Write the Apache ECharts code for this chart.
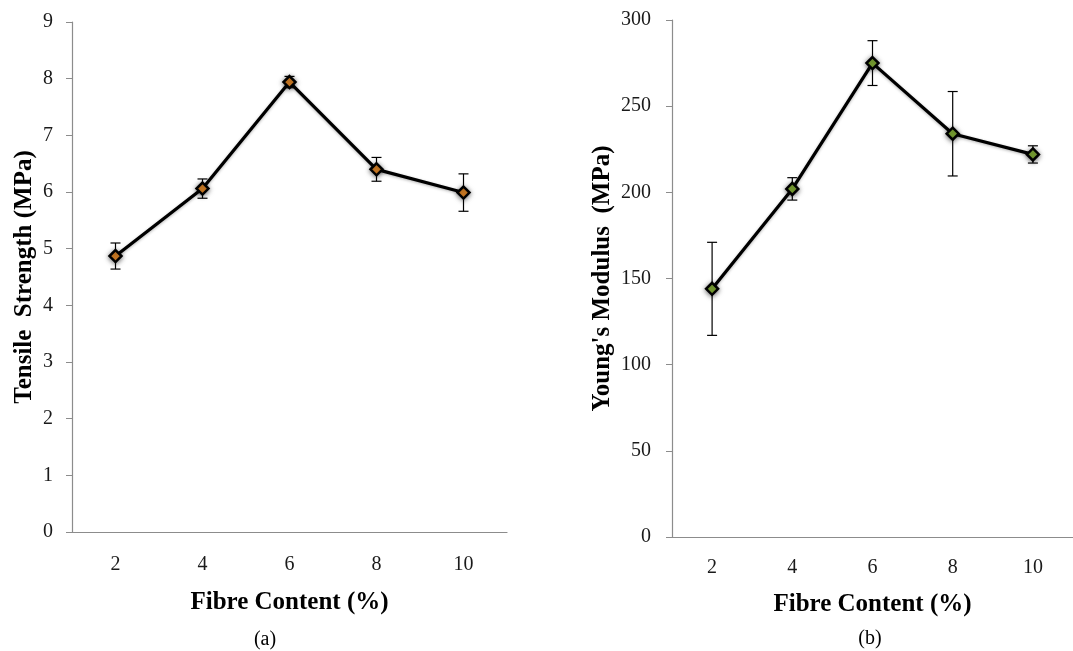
<!DOCTYPE html>
<html>
<head>
<meta charset="utf-8">
<script src="https://cdn.jsdelivr.net/npm/echarts@6/dist/echarts.min.js"></script>
<style>
  html, body { margin: 0; padding: 0; background: #ffffff; }
  #chart { width: 1073px; height: 651px; }
</style>
</head>
<body>
<div id="chart"></div>
<script>
// fibre content categories (%)
const categories = ["2", "4", "6", "8", "10"];
// (a) tensile strength, MPa, with error (+/-)
const tensile = [4.87, 6.06, 7.94, 6.40, 5.99];
const tensileErr = [0.23, 0.17, 0.10, 0.21, 0.33];
// (b) young's modulus, MPa, with error (+/-)
const modulus = [144, 202, 275, 234, 222];
const modulusErr = [27, 6.5, 13, 24.5, 5];

const serif = "Liberation Serif";
const axisGrey = "#8c8c8c";

function errData(vals, errs) {
  return vals.map(function(v, i) {
    return [i, v - errs[i], v + errs[i]];
  });
}

function renderErr(params, api) {
  const i = api.value(0);
  const lo = api.coord([i, api.value(1)]);
  const hi = api.coord([i, api.value(2)]);
  const w = 5;
  const style = { stroke: "#000", lineWidth: 1.2 };
  return {
    type: "group",
    children: [
      { type: "line", shape: { x1: hi[0], y1: hi[1], x2: lo[0], y2: lo[1] }, style: style },
      { type: "line", shape: { x1: hi[0] - w, y1: hi[1], x2: hi[0] + w, y2: hi[1] }, style: style },
      { type: "line", shape: { x1: lo[0] - w, y1: lo[1], x2: lo[0] + w, y2: lo[1] }, style: style }
    ]
  };
}

function xAxisOpt(idx, margin, gap) {
  return {
    type: "category",
    gridIndex: idx,
    data: categories,
    name: "Fibre Content (%)",
    nameLocation: "middle",
    nameGap: gap,
    nameTextStyle: { fontFamily: serif, fontWeight: "bold", fontSize: 25, color: "#000" },
    axisLine: { lineStyle: { color: axisGrey, width: 1.2 } },
    axisTick: { show: false },
    axisLabel: { fontFamily: serif, fontSize: 20, color: "#1a1a1a", margin: margin },
    splitLine: { show: false }
  };
}

function yAxisOpt(idx, name, max, interval, gap, margin) {
  return {
    type: "value",
    gridIndex: idx,
    min: 0,
    max: max,
    interval: interval,
    name: name,
    nameLocation: "middle",
    nameGap: gap,
    nameTextStyle: { fontFamily: serif, fontWeight: "bold", fontSize: 25, color: "#000" },
    axisLine: { show: true, lineStyle: { color: axisGrey, width: 1.2 } },
    axisTick: { show: true, length: 6, lineStyle: { color: axisGrey } },
    axisLabel: { fontFamily: serif, fontSize: 20, color: "#1a1a1a", margin: margin },
    splitLine: { show: false }
  };
}

function lineSeries(idx, data, fill) {
  return {
    type: "line",
    xAxisIndex: idx,
    yAxisIndex: idx,
    data: data,
    symbol: "diamond",
    symbolSize: 12,
    z: 3,
    lineStyle: { color: "#000", width: 3.2, shadowBlur: 3, shadowColor: "rgba(0,0,0,0.3)", shadowOffsetY: 1 },
    itemStyle: {
      color: fill,
      borderColor: "#000",
      borderWidth: 2.5,
      shadowBlur: 5,
      shadowColor: "rgba(0,0,0,0.5)",
      shadowOffsetY: 1
    },
    animation: false
  };
}

const chart = echarts.init(document.getElementById("chart"));
chart.setOption({
  backgroundColor: "#ffffff",
  animation: false,
  grid: [
    { left: 72, top: 22, width: 435, height: 510 },
    { left: 672, top: 20, width: 406, height: 517 }
  ],
  xAxis: [xAxisOpt(0, 23, 58), xAxisOpt(1, 21, 55)],
  yAxis: [
    yAxisOpt(0, "Tensile  Strength (MPa)", 9, 1, 35, 19),
    yAxisOpt(1, "Young's Modulus  (MPa)", 300, 50, 57, 21)
  ],
  series: [
    {
      type: "custom",
      xAxisIndex: 0,
      yAxisIndex: 0,
      renderItem: renderErr,
      data: errData(tensile, tensileErr),
      z: 2
    },
    lineSeries(0, tensile, "#f0902a"),
    {
      type: "custom",
      xAxisIndex: 1,
      yAxisIndex: 1,
      renderItem: renderErr,
      data: errData(modulus, modulusErr),
      z: 2
    },
    lineSeries(1, modulus, "#8dbb3a")
  ],
  graphic: [
    { type: "text", x: 265, y: 640, style: { text: "(a)", font: "20px " + serif, fill: "#000", textAlign: "center", textVerticalAlign: "middle" } },
    { type: "text", x: 870, y: 639, style: { text: "(b)", font: "20px " + serif, fill: "#000", textAlign: "center", textVerticalAlign: "middle" } }
  ]
});
</script>
</body>
</html>
